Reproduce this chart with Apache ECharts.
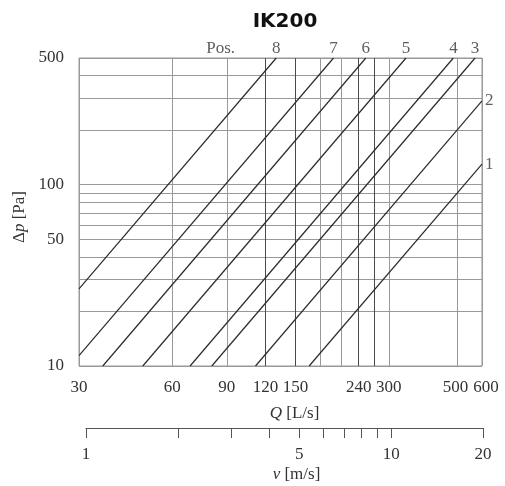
<!DOCTYPE html>
<html>
<head>
<meta charset="utf-8">
<script src="https://cdn.jsdelivr.net/npm/echarts@6/dist/echarts.min.js"></script>
<style>html,body{margin:0;padding:0;background:#fff}#c{width:505px;height:486px}</style>
</head>
<body>
<div id="c"></div>
<script>
// Position names and line endpoints [Q L/s, dp Pa]
const posNames = ['1', '2', '3', '4', '5', '6', '7', '8'];
const pos1 = [[166, 10], [600, 130]];
const pos2 = [[111.4, 10], [600, 290]];
const pos3 = [[80.5, 10], [570, 500]];
const pos4 = [[68.5, 10], [485, 500]];
const pos5 = [[48.2, 10], [341, 500]];
const pos6 = [[35.8, 10], [253, 500]];
const pos7 = [[30, 11.4], [199, 500]];
const pos8 = [[30, 26.6], [130, 500]];
const posLines = [pos1, pos2, pos3, pos4, pos5, pos6, pos7, pos8];

// Axis ticks / labels
const qGridValues = [30, 60, 90, 120, 150, 180, 210, 240, 270, 300, 500, 600];
const qDarkValues = [120, 150, 240, 270];
const qLabels = [30, 60, 90, 120, 150, 240, 300, 500, 600];
const dpGridValues = [10, 20, 30, 40, 50, 60, 70, 80, 90, 100, 200, 300, 400, 500];
const dpLabels = [10, 50, 100, 500];
const vTicks = [1, 2, 3, 4, 5, 6, 7, 8, 9, 10, 20];
const vLabels = [1, 5, 10, 20];
const posHeaderQ = 86; // where "Pos." sits on the top edge

const serif = 'Liberation Serif';
const fs = 17;
const txt = '#333';
const vGridColors = qGridValues.map(v => qDarkValues.indexOf(v) >= 0 ? '#4a4a4a' : '#999');

const series = posLines.map((pts, i) => ({
  type: 'line',
  name: posNames[i],
  data: pts,
  xAxisIndex: 0, yAxisIndex: 0,
  symbol: 'none',
  silent: true,
  animation: false,
  lineStyle: { color: '#2b2b2b', width: 1.2 }
}));

// End labels
const labelData = posLines.map((pts, i) => {
  const end = pts[pts.length - 1];
  const atTop = end[1] >= 500;
  return {
    value: end,
    name: posNames[i],
    label: { show: true, position: atTop ? 'top' : 'right', distance: atTop ? 1 : 3, formatter: posNames[i] }
  };
});
labelData.push({ value: [posHeaderQ, 500], name: 'Pos.', label: { show: true, position: 'top', distance: 1, formatter: 'Pos.' } });

series.push({
  type: 'scatter',
  xAxisIndex: 0, yAxisIndex: 0,
  symbolSize: 0,
  silent: true,
  animation: false,
  clip: false,
  label: { fontFamily: serif, fontSize: fs, color: txt },
  data: labelData
});

const richName = {
  i: { fontFamily: serif, fontSize: fs, fontStyle: 'italic', color: txt },
  n: { fontFamily: serif, fontSize: fs, color: txt }
};

const option = {
  animation: false,
  title: {
    text: 'IK200', left: 280, top: 7, textAlign: 'center',
    textStyle: { fontFamily: 'DejaVu Sans', fontWeight: 'bold', fontSize: 20, color: '#111' }
  },
  grid: [
    { left: 79, right: 23, top: 58, bottom: 120, show: true, borderColor: '#999', borderWidth: 1 },
    { left: 86, right: 22, top: 427, height: 1, show: false }
  ],
  xAxis: [
    {
      type: 'log', gridIndex: 0, min: 30, max: 600, logBase: 10,
      axisLine: { show: false },
      axisTick: { show: false, customValues: qGridValues },
      axisLabel: {
        customValues: qLabels, fontFamily: serif, fontSize: fs, color: txt, margin: 13, hideOverlap: false,
        formatter: v => v === 600 ? '{r|600}' : (v === 500 ? '{l|500}' : String(v)),
        rich: {
          r: { fontFamily: serif, fontSize: fs, color: txt, padding: [0, 0, 0, 8] },
          l: { fontFamily: serif, fontSize: fs, color: txt, padding: [0, 4, 0, 0] }
        }
      },
      splitLine: { show: true, lineStyle: { color: vGridColors, width: 1 } },
      minorTick: { show: false }, minorSplitLine: { show: false },
      name: '{i|Q}{n| [L/s]}', nameLocation: 'middle', nameGap: 39,
      nameTextStyle: { padding: [0, 0, 0, 28], rich: richName }
    },
    {
      type: 'log', gridIndex: 1, min: 1, max: 20, logBase: 10,
      axisLine: { show: true, lineStyle: { color: '#555', width: 1 } },
      axisTick: { show: true, customValues: vTicks, length: 10, lineStyle: { color: '#555', width: 1 } },
      axisLabel: { customValues: vLabels, fontFamily: serif, fontSize: fs, color: txt, margin: 18 },
      splitLine: { show: false },
      name: '{i|v}{n| [m/s]}', nameLocation: 'middle', nameGap: 38,
      nameTextStyle: { padding: [0, 0, 0, 24], rich: richName }
    }
  ],
  yAxis: [
    {
      type: 'log', gridIndex: 0, min: 10, max: 500, logBase: 10,
      axisLine: { show: false },
      axisTick: { show: false, customValues: dpGridValues },
      axisLabel: { customValues: dpLabels, fontFamily: serif, fontSize: fs, color: txt, margin: 15 },
      splitLine: { show: true, lineStyle: { color: '#999', width: 1 } },
      name: '{n|Δ}{i|p}{n| [Pa]}', nameLocation: 'middle', nameGap: 45, nameRotate: 90,
      nameTextStyle: { padding: [0, 10, 0, 0], rich: richName }
    },
    { type: 'value', gridIndex: 1, show: false, min: 0, max: 1 }
  ],
  series: series
};

const chart = echarts.init(document.getElementById('c'), null, { renderer: 'canvas' });
chart.setOption(option);
</script>
</body>
</html>
